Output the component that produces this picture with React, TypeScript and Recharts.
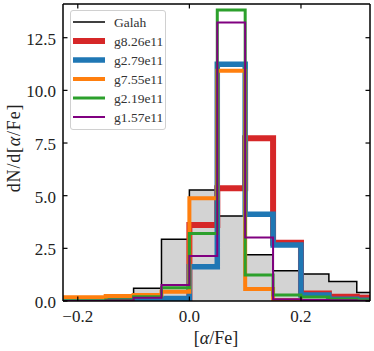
import { ComposedChart, Line, Area, XAxis, YAxis, Legend } from 'recharts';

// histogram bin edges (width 0.05)
const binEdges = [-0.25, -0.2, -0.15, -0.1, -0.05, 0, 0.05, 0.1, 0.15, 0.2, 0.25, 0.3, 0.35];

// dN/d[alpha/Fe] per bin
const galah = [0, 0, 0, 0.6, 2.93, 5.27, 4.04, 2.19, 1.44, 1.28, 0.92, 0.4];
const g826 = [0, 0, 0.03, 0.05, 0.1, 3.61, 5.35, 7.73, 2.77, 0.36, 0.2, 0.15];
const g279 = [0, 0, 0, 0.05, 0.12, 1.63, 11.24, 4.12, 2.66, 0.28, 0.08, 0.03];
const g755 = [0.18, 0.18, 0.24, 0.28, 0.44, 4.88, 10.93, 0.57, 0.03, 0, 0, 0];
const g219 = [0, 0, 0.05, 0.2, 0.63, 3.21, 13.82, 1.23, 0.28, 0.19, 0.1, 0.05];
const g157 = [0, 0, 0.02, 0.16, 0.76, 2.14, 13.22, 3.01, 0.08, 0.05, 0.03, 0.01];

const xTicks = [-0.2, 0, 0.2];
const yTicks = [0, 2.5, 5, 7.5, 10, 12.5];

const FONT = '"Liberation Serif", serif';

// build outline of a step histogram (like histtype='step')
function toSteps(values: number[]) {
  const n = values.length;
  const pts = [{ x: binEdges[0], y: 0 }];
  values.forEach((v, i) => pts.push({ x: binEdges[i], y: v }));
  pts.push({ x: binEdges[n], y: values[n - 1] });
  pts.push({ x: binEdges[n], y: 0 });
  return pts;
}

const series = [
  { name: 'g8.26e11', values: g826, color: '#d62728', width: 6 },
  { name: 'g2.79e11', values: g279, color: '#1f77b4', width: 5.5 },
  { name: 'g7.55e11', values: g755, color: '#ff7f0e', width: 4 },
  { name: 'g2.19e11', values: g219, color: '#2ca02c', width: 3 },
  { name: 'g1.57e11', values: g157, color: '#800080', width: 2 },
];

const fmt = (v: number) => (v < 0 ? '\u2212' : '') + Math.abs(v).toFixed(1);

const BottomTick = (props: any) => {
  const { x, y, payload } = props;
  return (
    <g>
      <line x1={x} x2={x} y1={y} y2={y - 4.5} stroke="#000" strokeWidth={1.2} />
      <text x={x} y={y + 21} textAnchor="middle" fontFamily={FONT} fontSize={17} fill="#222">
        {fmt(payload.value)}
      </text>
    </g>
  );
};

const TopTick = (props: any) => {
  const { x, y } = props;
  return <line x1={x} x2={x} y1={y} y2={y + 4.5} stroke="#000" strokeWidth={1.2} />;
};

const LeftTick = (props: any) => {
  const { x, y, payload } = props;
  return (
    <g>
      <line x1={x} x2={x + 4.5} y1={y} y2={y} stroke="#000" strokeWidth={1.2} />
      <text x={x - 7} y={y + 7} textAnchor="end" fontFamily={FONT} fontSize={17} fill="#222">
        {fmt(payload.value)}
      </text>
    </g>
  );
};

const RightTick = (props: any) => {
  const { x, y } = props;
  return <line x1={x} x2={x - 4.5} y1={y} y2={y} stroke="#000" strokeWidth={1.2} />;
};

const legendItems = [{ name: 'Galah', color: '#000', width: 1.5 }, ...series];

const renderLegend = () => (
  <div
    style={{
      width: 96,
      height: 120,
      boxSizing: 'border-box',
      border: '1px solid #d0d0d0',
      borderRadius: 3,
      background: 'rgba(255,255,255,0.8)',
    }}
  >
    <svg width={94} height={118}>
      {legendItems.map((it, i) => (
        <g key={it.name}>
          <line x1={2} x2={34} y1={11 + i * 19} y2={11 + i * 19} stroke={it.color} strokeWidth={it.width} />
          <text x={43} y={16 + i * 19} fontFamily={FONT} fontSize={13.5} fill="#333">
            {it.name}
          </text>
        </g>
      ))}
    </svg>
  </div>
);

const axisLine = { stroke: '#000', strokeWidth: 1.5 };

export default function App() {
  return (
    <div style={{ position: 'absolute', left: 0, top: 0, width: 374, height: 351, background: '#fff' }}>
      <ComposedChart width={374} height={351} margin={{ top: 3, right: 3, bottom: 49, left: 62 }}>
        <XAxis
          xAxisId="b"
          type="number"
          dataKey="x"
          domain={[-0.2265, 0.3237]}
          allowDataOverflow
          ticks={xTicks}
          height={1}
          tickSize={0}
          tickMargin={0}
          tickLine={false}
          tick={<BottomTick />}
          axisLine={axisLine}
        />
        <XAxis
          xAxisId="t"
          orientation="top"
          type="number"
          dataKey="x"
          domain={[-0.2265, 0.3237]}
          allowDataOverflow
          ticks={xTicks}
          height={1}
          tickSize={0}
          tickMargin={0}
          tickLine={false}
          tick={<TopTick />}
          axisLine={axisLine}
        />
        <YAxis
          yAxisId="l"
          type="number"
          domain={[0, 14.1]}
          allowDataOverflow
          ticks={yTicks}
          width={1}
          tickSize={0}
          tickMargin={0}
          tickLine={false}
          tick={<LeftTick />}
          axisLine={axisLine}
        />
        <YAxis
          yAxisId="r"
          orientation="right"
          type="number"
          domain={[0, 14.1]}
          allowDataOverflow
          ticks={yTicks}
          width={1}
          tickSize={0}
          tickMargin={0}
          tickLine={false}
          tick={<RightTick />}
          axisLine={axisLine}
        />
        <Area
          xAxisId="b"
          yAxisId="l"
          data={toSteps(galah)}
          dataKey="y"
          type="stepAfter"
          stroke="#000"
          strokeWidth={1.5}
          fill="#d3d3d3"
          fillOpacity={1}
          isAnimationActive={false}
          dot={false}
          activeDot={false}
        />
        {series.map((s) => (
          <Line
            key={s.name}
            xAxisId="b"
            yAxisId="l"
            data={toSteps(s.values)}
            dataKey="y"
            type="stepAfter"
            stroke={s.color}
            strokeWidth={s.width}
            dot={false}
            activeDot={false}
            isAnimationActive={false}
          />
        ))}
        <Legend
          layout="vertical"
          align="center"
          verticalAlign="middle"
          content={renderLegend}
          wrapperStyle={{ left: 70, top: 10, width: 96, height: 120 }}
        />
      </ComposedChart>
      <svg style={{ position: 'absolute', left: 0, top: 0 }} width={374} height={351} pointerEvents="none">
        <text x={216} y={344} textAnchor="middle" fontFamily={FONT} fontSize={18} fill="#222">
          [<tspan fontStyle="italic">α</tspan>/Fe]
        </text>
        <text
          x={20}
          y={148}
          textAnchor="middle"
          fontFamily={FONT}
          fontSize={18}
          fill="#222"
          letterSpacing={0.8}
          transform="rotate(-90 20 148)"
        >
          dN/d[<tspan fontStyle="italic">α</tspan>/Fe]
        </text>
      </svg>
    </div>
  );
}
